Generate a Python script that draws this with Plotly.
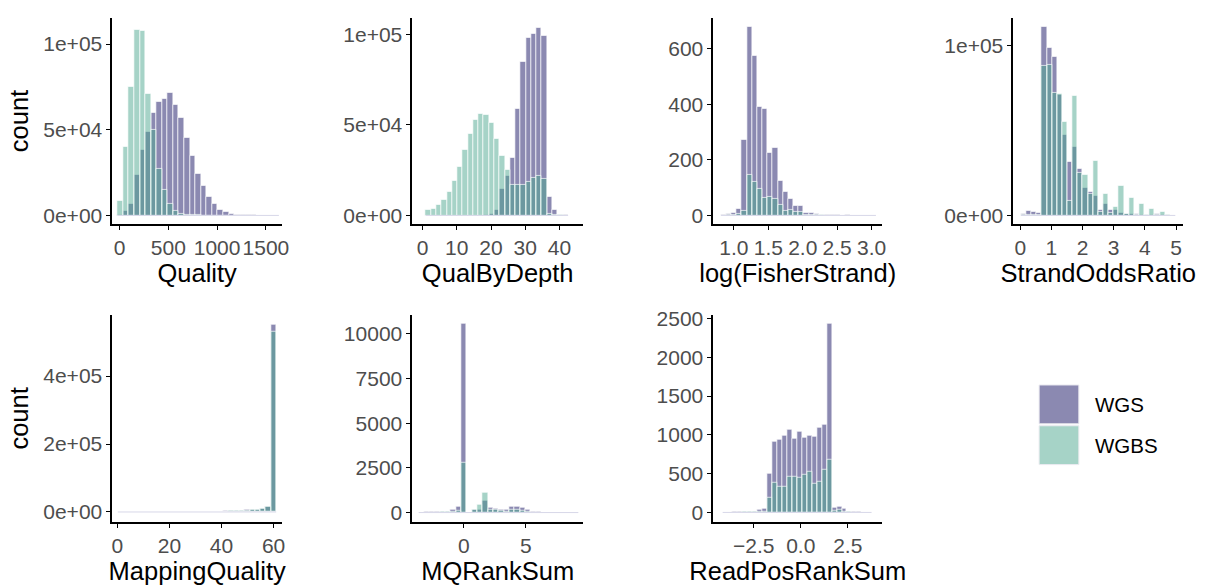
import numpy as np
import plotly.graph_objects as go

# ---------------- data ----------------
# Each variable: histogram bins given as (first bin centre, bin width) and counts per group.

quality_bins = (8.5, 57.0)
quality_wgs = [300, 2500, 7000, 23500, 38000, 49000, 60000, 66500, 68000, 71700, 64600,
               57000, 45500, 35000, 24000, 17000, 11000, 6700, 3400, 2000, 1000, 500,
               300, 150, 80, 40, 20, 10, 5]
quality_wgbs = [8600, 40000, 75000, 108600, 107600, 71000, 50000, 27000, 15000, 7000,
                2500, 1000, 400, 150, 60, 20, 5, 0, 0, 0, 0, 0, 0, 0, 0, 0, 0, 0, 0]

qd_bins = (1.7, 1.54)
qd_wgs = [0, 0, 0, 0, 0, 0, 0, 0, 0, 0, 0, 200, 1000, 3000, 14500, 22000, 32000, 58800,
          84600, 98000, 100000, 103600, 99000, 10500, 3300, 500, 100]
qd_wgbs = [3300, 3800, 5600, 8700, 13000, 19000, 27000, 36000, 44800, 53000, 56000, 55700,
           51000, 42000, 33000, 25000, 17000, 17000, 17000, 18600, 21000, 22000, 20000,
           1000, 300, 100, 0]

fs_bins = (0.85, 0.075)
fs_wgs = [3, 5, 10, 25, 272, 679, 576, 391, 385, 224, 242, 124, 86, 59, 33, 33, 9, 8, 7,
          3, 2, 1, 1, 0, 1, 0, 0, 0, 0, 0]
fs_wgbs = [0, 1, 2, 5, 15, 148, 122, 95, 63, 66, 59, 39, 15, 19, 13, 13, 3, 2, 1, 1, 0,
           0, 0, 0, 0, 0, 0, 0, 0, 0]

sor_bins = (0.11, 0.165)
sor_wgs = [1000, 2500, 2000, 1500, 111000, 99000, 93600, 71000, 47500, 31500, 40700,
           27600, 16400, 13700, 11600, 3000, 7000, 3000, 3000, 1500, 1200, 1200, 800, 600,
           400, 300, 1000, 200, 100, 50]
sor_wgbs = [200, 500, 500, 300, 88000, 89000, 72000, 71600, 55000, 8700, 70700, 25300,
            24000, 12500, 32400, 2000, 12500, 1500, 4800, 17400, 1000, 10600, 500, 6800,
            300, 3900, 200, 2100, 100, 50]

mq_bins = (1.13, 2.03)
mq_wgs = [50, 50, 60, 60, 80, 100, 120, 150, 200, 250, 300, 400, 500, 600, 700, 900, 1100,
          1300, 1600, 2000, 2500, 3000, 3500, 4500, 5500, 7000, 8000, 10000, 15000, 552000]
mq_wgbs = [30, 30, 40, 40, 60, 80, 100, 120, 150, 200, 250, 300, 400, 500, 600, 800, 1000,
           1200, 1500, 1800, 2300, 2800, 3300, 4200, 5200, 6500, 7700, 9500, 15400, 530000]

mqr_bins = (-3.44, 0.43)
mqr_wgs = [20, 25, 30, 40, 50, 60, 180, 330, 10550, 0, 150, 150, 640, 275, 240, 180, 150,
           330, 330, 275, 150, 50, 30, 20, 10, 10, 5, 5, 5, 5]
mqr_wgbs = [10, 10, 15, 20, 25, 30, 60, 100, 2790, 0, 180, 460, 1100, 180, 150, 80, 60,
            180, 150, 120, 40, 20, 10, 5, 5, 0, 0, 0, 0, 0]

rprs_bins = (-4.02, 0.264)
rprs_wgs = [2, 2, 3, 4, 5, 8, 10, 30, 42, 494, 917, 942, 984, 1064, 955, 1035, 959, 984,
            971, 1090, 1132, 2428, 63, 76, 42, 13, 5, 3, 2, 1]
rprs_wgbs = [1, 1, 1, 2, 3, 4, 5, 10, 15, 190, 380, 338, 338, 465, 465, 443, 486, 528,
             367, 401, 549, 684, 20, 30, 15, 5, 2, 1, 1, 0]

groups = ["WGS", "WGBS"]

# ---------------- style ----------------
W, H = 1215, 588
FILL = {"WGS": "rgba(23,19,99,0.5)", "WGBS": "rgba(77,167,143,0.5)"}
EDGE = "rgba(255,255,255,0.85)"
FONT = "Liberation Sans, Arial, Helvetica, sans-serif"
TICK_FONT = dict(family=FONT, size=21, color="#4d4d4d")
TITLE_FONT = dict(family=FONT, size=25.5, color="black")

# panel boxes in pixels: (left, right, top, bottom)
cols = [(112, 283), (414, 586), (717, 887), (1019, 1190)]
rows = [(10, 220), (312, 523)]


def sci(v):
    if v == 0:
        return "0e+00"
    e = int(np.floor(np.log10(v)))
    return f"{v / 10 ** e:.0f}e+{e:02d}"


panels = [
    dict(title="Quality", bins=quality_bins, wgs=quality_wgs, wgbs=quality_wgbs,
         xr=[-74, 1666], yr=[-5164, 115318],
         xt=[0, 500, 1000, 1500], xl=["0", "500", "1000", "1500"],
         yt=[0, 50000, 100000], yl=None, ytitle=True),
    dict(title="QualByDepth", bins=qd_bins, wgs=qd_wgs, wgbs=qd_wgbs,
         xr=[-3.0, 46.9], yr=[-4883, 109060],
         xt=[0, 10, 20, 30, 40], xl=None,
         yt=[0, 50000, 100000], yl=None, ytitle=False),
    dict(title="log(FisherStrand)", bins=fs_bins, wgs=fs_wgs, wgbs=fs_wgbs,
         xr=[0.70, 3.153], yr=[-31.9, 712],
         xt=[1.0, 1.5, 2.0, 2.5, 3.0], xl=["1.0", "1.5", "2.0", "2.5", "3.0"],
         yt=[0, 200, 400, 600], yl=None, ytitle=False),
    dict(title="StrandOddsRatio", bins=sor_bins, wgs=sor_wgs, wgbs=sor_wgbs,
         xr=[-0.223, 5.23], yr=[-5211, 116400],
         xt=[0, 1, 2, 3, 4, 5], xl=None,
         yt=[0, 100000], yl=None, ytitle=False),
    dict(title="MappingQuality", bins=mq_bins, wgs=mq_wgs, wgbs=mq_wgbs,
         xr=[-2.0, 63.3], yr=[-29800, 580500],
         xt=[0, 20, 40, 60], xl=None,
         yt=[0, 200000, 400000], yl=None, ytitle=True),
    dict(title="MQRankSum", bins=mqr_bins, wgs=mqr_wgs, wgbs=mqr_wgbs,
         xr=[-4.17, 9.63], yr=[-534, 11080],
         xt=[0, 5], xl=None,
         yt=[0, 2500, 5000, 7500, 10000], yl=None, ytitle=False),
    dict(title="ReadPosRankSum", bins=rprs_bins, wgs=rprs_wgs, wgbs=rprs_wgbs,
         xr=[-4.65, 4.33], yr=[-125, 2550],
         xt=[-2.5, 0.0, 2.5], xl=["\u22122.5", "0.0", "2.5"],
         yt=[0, 500, 1000, 1500, 2000, 2500], yl=None, ytitle=False),
]

fig = go.Figure()
layout = {}

for i, p in enumerate(panels):
    n = i + 1
    ax = "" if n == 1 else str(n)
    c0, w = p["bins"]
    counts = {"WGS": p["wgs"], "WGBS": p["wgbs"]}
    nb = len(p["wgs"])
    centres = c0 + w * np.arange(nb)

    # faint baseline left by the empty bins
    fig.add_trace(go.Scatter(
        x=[centres[0] - w / 2, centres[-1] + w / 2], y=[0, 0], mode="lines",
        line=dict(color="rgba(215,215,232,1)", width=1),
        hoverinfo="skip", showlegend=False, xaxis="x" + ax, yaxis="y" + ax))

    for g in groups:
        fig.add_trace(go.Bar(
            x=centres, y=counts[g], width=w, name=g,
            marker=dict(color=FILL[g], line=dict(color=EDGE, width=0.8)),
            showlegend=False, xaxis="x" + ax, yaxis="y" + ax))

    cl, cr = cols[i % 4]
    rt, rb = rows[i // 4]
    yl = p["yl"] if p["yl"] is not None else (
        [sci(v) for v in p["yt"]] if max(p["yt"]) >= 50000 else [str(v) for v in p["yt"]])
    xl = p["xl"] if p["xl"] is not None else [str(v) for v in p["xt"]]

    layout["xaxis" + ax] = dict(
        domain=[cl / W, cr / W], range=p["xr"], anchor="y" + ax,
        showline=True, linecolor="black", linewidth=1.6,
        ticks="outside", ticklen=4, tickwidth=1.3, tickcolor="black",
        tickvals=p["xt"], ticktext=xl, tickfont=TICK_FONT,
        showgrid=False, zeroline=False,
        title=dict(text=p["title"], font=TITLE_FONT, standoff=3))
    layout["yaxis" + ax] = dict(
        domain=[1 - rb / H, 1 - rt / H], range=p["yr"], anchor="x" + ax,
        showline=True, linecolor="black", linewidth=1.6,
        ticks="outside", ticklen=4, tickwidth=1.3, tickcolor="black",
        tickvals=p["yt"], ticktext=yl, tickfont=TICK_FONT,
        showgrid=False, zeroline=False,
        title=dict(text="count" if p["ytitle"] else "", font=TITLE_FONT, standoff=7))

# legend drawn as keys + labels
shapes = []
annotations = []
key_x0, key_x1 = 1045, 1085
for j, g in enumerate(groups):
    y0 = 383.5 + j * 41.5
    y1 = y0 + 39.5
    shapes.append(dict(type="rect", xref="paper", yref="paper",
                       x0=key_x0 / W, x1=key_x1 / W, y0=1 - y1 / H, y1=1 - y0 / H,
                       fillcolor=FILL[g], line=dict(color="rgba(235,235,240,1)", width=1)))
    annotations.append(dict(xref="paper", yref="paper", x=1099 / W, y=1 - (y0 + y1) / 2 / H,
                            text=g, showarrow=False, xanchor="left", yanchor="middle",
                            font=dict(family=FONT, size=20.5, color="black")))

fig.update_layout(
    width=W, height=H, margin=dict(l=0, r=0, t=0, b=0),
    paper_bgcolor="white", plot_bgcolor="white",
    barmode="overlay", bargap=0,
    shapes=shapes, annotations=annotations, showlegend=False,
    **layout)

fig.write_html("out.html")
